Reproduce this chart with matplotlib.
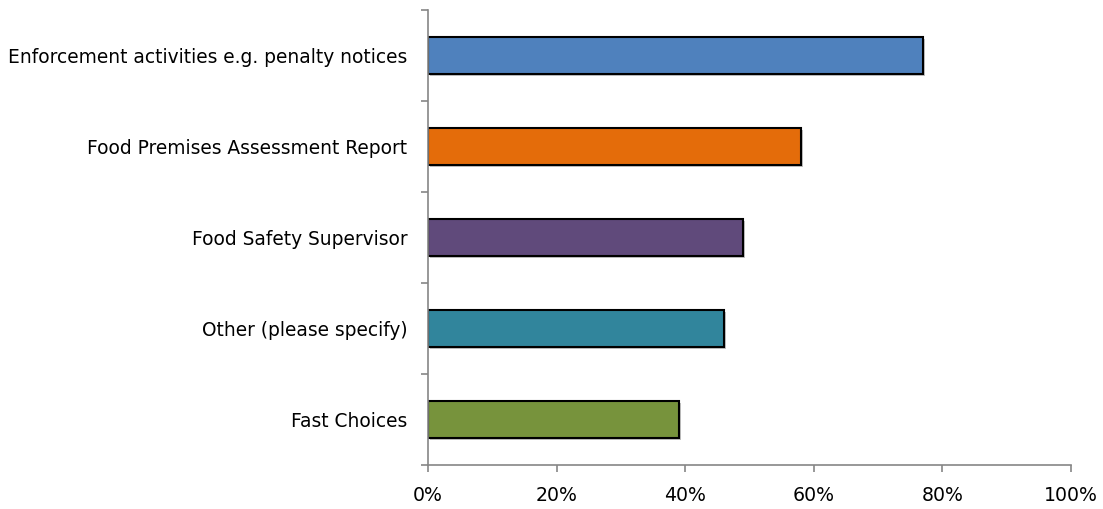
import numpy as np
import matplotlib
matplotlib.use("Agg")
import matplotlib.pyplot as plt
import matplotlib.patheffects as pe
from matplotlib.ticker import FuncFormatter

matplotlib.rc('font', family='DejaVu Sans')

categories = ["Enforcement activities e.g. penalty notices",
              "Food Premises Assessment Report",
              "Food Safety Supervisor",
              "Other (please specify)",
              "Fast Choices"]
values = [77, 58, 49, 46, 39]
colors = ["#4F81BD", "#E46C0A", "#604A7B", "#31859C", "#77933C"]
xticks = [0, 20, 40, 60, 80, 100]

fig = plt.figure(figsize=(11.03, 5.09), dpi=100)
ax = fig.add_axes([0.388, 0.0864, 0.583, 0.894])

y = np.arange(len(categories))
bars = ax.barh(y, values, height=0.4, color=colors, edgecolor='black', linewidth=1.5)
for b in bars:
    b.set_path_effects([pe.SimplePatchShadow(offset=(1.5, -1.5), shadow_rgbFace='#999999', alpha=0.6),
                        pe.Normal()])

ax.set_xlim(0, 100)
ax.set_ylim(len(categories) - 0.5, -0.5)
ax.set_xticks(xticks)
ax.xaxis.set_major_formatter(FuncFormatter(lambda v, p: f"{v:.0f}%"))
ax.set_yticks(y)
ax.set_yticklabels(categories)
ax.set_yticks(np.arange(-0.5, len(categories)), minor=True)

grey = '#868686'
for s in ['top', 'right']:
    ax.spines[s].set_visible(False)
for s in ['left', 'bottom']:
    ax.spines[s].set_color(grey)
    ax.spines[s].set_linewidth(1.2)

ax.tick_params(axis='y', which='major', length=0, pad=15, labelsize=13.4)
ax.tick_params(axis='y', which='minor', length=5, color=grey, width=1.2)
ax.tick_params(axis='x', length=5, color=grey, width=1.2, labelsize=13.6, pad=10)

fig.savefig("out.png", dpi=100)
